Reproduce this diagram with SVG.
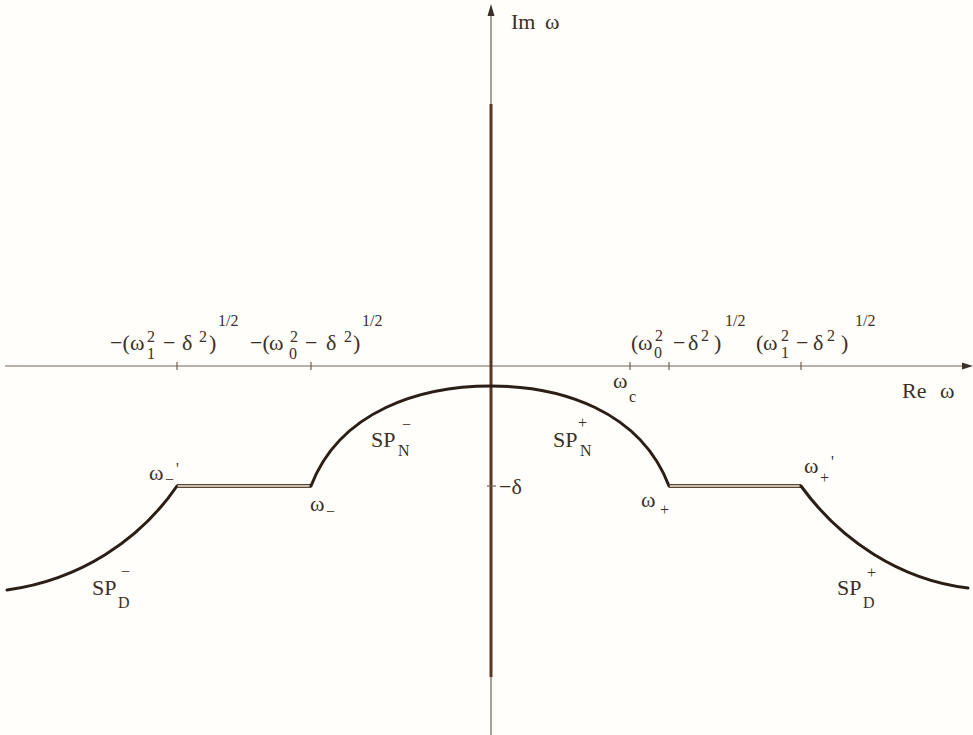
<svg xmlns="http://www.w3.org/2000/svg" width="973" height="735" viewBox="0 0 973 735">
<style>
text{font-family:"Liberation Serif","Times New Roman",serif;fill:#3a3029}
.m{font-size:22px}
.s{font-size:16px}
.h{font-size:16px}
.ax{stroke:#6e6256;stroke-width:1.2;fill:none}
.tk{stroke:#6e6256;stroke-width:1.2}
.cv{stroke:#2a1e16;stroke-width:3;fill:none;stroke-linecap:round}
.fo{stroke:#5a4636;stroke-width:4;fill:none}
.fi{stroke:#efe6d6;stroke-width:1.5;fill:none}
</style>
<rect width="973" height="735" fill="#fffefa"/>
<g id="axes">
<line class="ax" x1="5" y1="366" x2="964" y2="366"/>
<polygon points="973,366 962,362.5 962,369.5" fill="#3a3029"/>
<line class="ax" x1="491" y1="14" x2="491" y2="735"/>
<polygon points="491,4 487.5,16 494.5,16" fill="#3a3029"/>
<line x1="491" y1="104" x2="491" y2="677" stroke="#5b3424" stroke-width="3"/>
<line class="tk" x1="177" y1="362" x2="177" y2="370"/>
<line class="tk" x1="311" y1="362" x2="311" y2="370"/>
<line class="tk" x1="630" y1="362" x2="630" y2="370"/>
<line class="tk" x1="669" y1="362" x2="669" y2="370"/>
<line class="tk" x1="801" y1="362" x2="801" y2="370"/>
<line class="tk" x1="487" y1="486" x2="496" y2="486"/>
</g>
<g id="connectors">
<path class="cv" d="M177,486 C140,540 80,580 7,590"/>
<line class="fo" x1="177" y1="486" x2="311" y2="486"/>
<line class="fi" x1="178" y1="486" x2="310" y2="486"/>
<path class="cv" d="M311,486 C340,410 422,386 491,386 C560,386 640,410 669,486"/>
<line class="fo" x1="669" y1="486" x2="801" y2="486"/>
<line class="fi" x1="670" y1="486" x2="800" y2="486"/>
<path class="cv" d="M801,486 C840,540 900,580 968,588"/>
</g>
<g id="axis-labels">
<text class="m" x="511" y="29">Im</text><text class="m" x="545" y="29">ω</text>
<text class="m" x="902" y="398">Re</text><text class="m" x="940" y="398">ω</text>
<text class="m" x="499" y="494">−δ</text>
</g>
<g id="label-neg-w1">
<text class="m" x="110" y="350">−(</text>
<text class="m" x="130" y="350">ω</text>
<text class="s" x="147" y="342">2</text>
<text class="s" x="147" y="359">1</text>
<text class="m" x="163" y="350">−</text>
<text class="m" x="182" y="350">δ</text>
<text class="s" x="199" y="342">2</text>
<text class="m" x="209" y="350">)</text>
<text class="h" x="218" y="326">1/2</text>
</g>
<g id="label-neg-w0">
<text class="m" x="250" y="350">−(</text>
<text class="m" x="269" y="350">ω</text>
<text class="s" x="290" y="342">2</text>
<text class="s" x="289" y="359">0</text>
<text class="m" x="305" y="350">−</text>
<text class="m" x="326" y="350">δ</text>
<text class="s" x="344" y="342">2</text>
<text class="m" x="353" y="350">)</text>
<text class="h" x="362" y="326">1/2</text>
</g>
<g id="label-pos-w0">
<text class="m" x="631" y="350">(</text>
<text class="m" x="638" y="350">ω</text>
<text class="s" x="655" y="341">2</text>
<text class="s" x="654" y="358">0</text>
<text class="m" x="673" y="350">−</text>
<text class="m" x="688" y="350">δ</text>
<text class="s" x="701" y="341">2</text>
<text class="m" x="714" y="350">)</text>
<text class="h" x="725" y="326">1/2</text>
</g>
<g id="label-pos-w1">
<text class="m" x="756" y="350">(</text>
<text class="m" x="763" y="350">ω</text>
<text class="s" x="781" y="341">2</text>
<text class="s" x="781" y="358">1</text>
<text class="m" x="796" y="350">−</text>
<text class="m" x="813" y="350">δ</text>
<text class="s" x="827" y="341">2</text>
<text class="m" x="841" y="350">)</text>
<text class="h" x="855" y="326">1/2</text>
</g>
<g id="label-wc">
<text class="m" x="613" y="388">ω</text><text class="s" x="629" y="402">c</text>
</g>
<g id="label-SPN-minus">
<text class="m" x="371" y="447">SP</text><text class="s" x="398" y="456">N</text><text class="s" x="402" y="430">−</text>
</g>
<g id="label-SPN-plus">
<text class="m" x="553" y="447">SP</text><text class="s" x="580" y="456">N</text><text class="s" x="578" y="428">+</text>
</g>
<g id="label-SPD-minus">
<text class="m" x="92" y="595">SP</text><text class="s" x="118" y="608">D</text><text class="s" x="121" y="577">−</text>
</g>
<g id="label-SPD-plus">
<text class="m" x="837" y="595">SP</text><text class="s" x="863" y="608">D</text><text class="s" x="867" y="578">+</text>
</g>
<g id="label-wm-prime">
<text class="m" x="149" y="480">ω</text><text class="s" x="165" y="485">−</text><text class="h" x="176" y="474">'</text>
</g>
<g id="label-wm">
<text class="m" x="310" y="511">ω</text><text class="s" x="326" y="517">−</text>
</g>
<g id="label-wp">
<text class="m" x="641" y="507">ω</text><text class="s" x="660" y="515">+</text>
</g>
<g id="label-wp-prime">
<text class="m" x="804" y="473">ω</text><text class="s" x="820" y="483">+</text><text class="h" x="831" y="467">'</text>
</g>
</svg>
